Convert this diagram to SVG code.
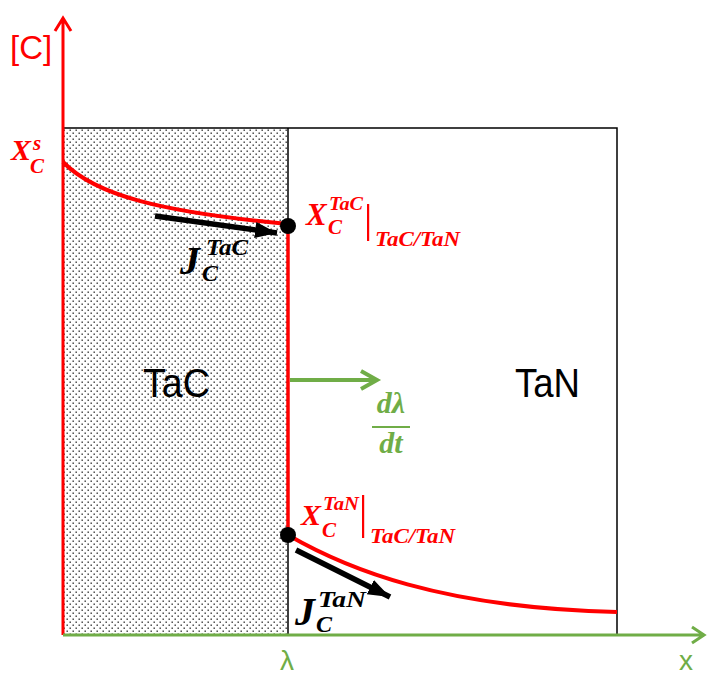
<svg xmlns="http://www.w3.org/2000/svg" width="709" height="678" viewBox="0 0 709 678">
<style>
.m{font-family:"Liberation Serif","DejaVu Serif",serif;font-weight:bold;font-style:italic}
.r{fill:#ff0000}
.k{fill:#000}
.g{fill:#70ad47}
.s{font-family:"Liberation Sans","Noto Sans",sans-serif}
</style>
<defs>
<pattern id="dots" width="6" height="6" patternUnits="userSpaceOnUse">
<rect width="6" height="6" fill="#fff"/>
<rect x="0.5" y="0.5" width="1.4" height="1.4" fill="#333"/>
<rect x="3.5" y="3.5" width="1.4" height="1.4" fill="#333"/>
</pattern>
<marker id="ah" markerUnits="userSpaceOnUse" markerWidth="24" markerHeight="18" refX="22" refY="8" orient="auto">
<path d="M0,0 L22,8 L0,16 Z" fill="#000"/>
</marker>
</defs>
<g id="tac-region">
<rect x="63" y="128" width="225" height="507" fill="url(#dots)"/>
</g>
<g id="box">
<path d="M63,128 H617 V635 M288,128 V635" fill="none" stroke="#000" stroke-width="1.5"/>
</g>
<g id="connectors">
<path d="M63,635 V18 M55,31 L63,18 L71,31" fill="none" stroke="#ff0000" stroke-width="3"/>
<path d="M63,635 H704 M692,627 L704,635 L692,643" fill="none" stroke="#70ad47" stroke-width="3"/>
<path d="M63,162 C95,195 160,212 288,224" fill="none" stroke="#ff0000" stroke-width="4"/>
<path d="M288,226 V535" fill="none" stroke="#ff0000" stroke-width="3.5"/>
<path d="M288,535 C345,568 440,608 617,612" fill="none" stroke="#ff0000" stroke-width="4"/>
<path d="M155,216 L277,233" fill="none" stroke="#000" stroke-width="5.5" marker-end="url(#ah)"/>
<path d="M296,550 L390,597" fill="none" stroke="#000" stroke-width="5.5" marker-end="url(#ah)"/>
<path d="M290,380 H377 M361,371 L377,380 L361,389" fill="none" stroke="#70ad47" stroke-width="4"/>
<circle cx="288" cy="226" r="8" fill="#000"/>
<circle cx="288" cy="535" r="8" fill="#000"/>
</g>
<g id="axis-labels">
<text x="10" y="59" class="s r" font-size="33">[C]</text>
<text x="287" y="670" class="s g" font-size="28" text-anchor="middle">λ</text>
<text x="686" y="670" class="s g" font-size="28" text-anchor="middle">x</text>
</g>
<g id="xs-label">
<text x="11" y="160" class="m r" font-size="30">X</text>
<text x="33" y="150" class="m r" font-size="21">s</text>
<text x="30" y="173" class="m r" font-size="21">C</text>
</g>
<g id="tac-label">
<text x="143" y="397" class="s k" font-size="40" textLength="67" lengthAdjust="spacingAndGlyphs">TaC</text>
</g>
<g id="tan-label">
<text x="515" y="397" class="s k" font-size="40" textLength="65" lengthAdjust="spacingAndGlyphs">TaN</text>
</g>
<g id="x-tac-label">
<text x="306" y="225" class="m r" font-size="31">X</text>
<text x="329" y="210" class="m r" font-size="18" textLength="34" lengthAdjust="spacingAndGlyphs">TaC</text>
<text x="328" y="234" class="m r" font-size="21">C</text>
<rect x="367" y="204" width="2.2" height="37" fill="#ff0000"/>
<text x="375" y="246" class="m r" font-size="20" textLength="85" lengthAdjust="spacingAndGlyphs">TaC/TaN</text>
</g>
<g id="x-tan-label">
<text x="301" y="525" class="m r" font-size="30">X</text>
<text x="323" y="510" class="m r" font-size="18" textLength="36" lengthAdjust="spacingAndGlyphs">TaN</text>
<text x="322" y="537" class="m r" font-size="21">C</text>
<rect x="362" y="495" width="2.2" height="43" fill="#ff0000"/>
<text x="370" y="543" class="m r" font-size="20" textLength="85" lengthAdjust="spacingAndGlyphs">TaC/TaN</text>
</g>
<g id="j-tac-label">
<text x="180" y="274" class="m k" font-size="40">J</text>
<text x="206" y="255" class="m k" font-size="24" textLength="42" lengthAdjust="spacingAndGlyphs">TaC</text>
<text x="202" y="281" class="m k" font-size="24">C</text>
</g>
<g id="j-tan-label">
<text x="295" y="625" class="m k" font-size="40">J</text>
<text x="318" y="607" class="m k" font-size="24" textLength="48" lengthAdjust="spacingAndGlyphs">TaN</text>
<text x="316" y="632" class="m k" font-size="24">C</text>
</g>
<g id="dlambda-label">
<text x="391" y="413" class="m g" font-size="30" text-anchor="middle">dλ</text>
<rect x="372" y="426" width="38" height="2" fill="#70ad47"/>
<text x="391" y="453" class="m g" font-size="30" text-anchor="middle">dt</text>
</g>
</svg>
